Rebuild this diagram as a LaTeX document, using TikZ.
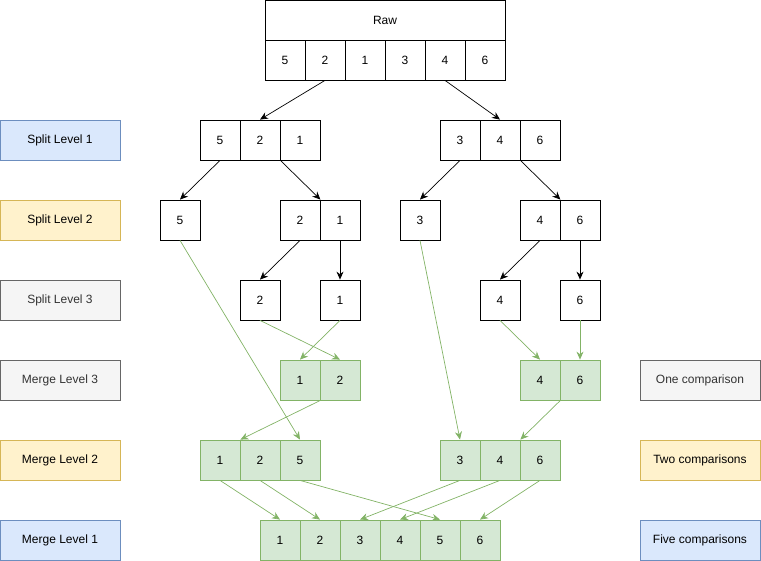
\documentclass[tikz,border=0pt]{standalone}
\usepackage{fontspec}
\setmainfont{Liberation Sans}
\usepackage{xcolor}
\usepackage{tikz}
\usetikzlibrary{arrows.meta}
\usetikzlibrary{positioning}

\definecolor{blueF}{HTML}{DAE8FC}
\definecolor{blueD}{HTML}{6C8EBF}
\definecolor{yellowF}{HTML}{FFF2CC}
\definecolor{yellowD}{HTML}{D6B656}
\definecolor{grayF}{HTML}{F5F5F5}
\definecolor{grayD}{HTML}{666666}
\definecolor{greenF}{HTML}{D5E8D4}
\definecolor{greenD}{HTML}{82B366}

\tikzset{
  cell/.style={draw, line width=0.8pt, minimum width=40pt, minimum height=40pt,
    inner sep=0pt, font=\fontsize{12}{14}\selectfont},
  mcell/.style={cell, draw=greenD, fill=greenF},
  tag/.style={draw, line width=0.8pt, minimum width=120pt, minimum height=40pt,
    inner sep=0pt, font=\fontsize{12}{14}\selectfont},
  bluetag/.style={tag, draw=blueD, fill=blueF},
  yellowtag/.style={tag, draw=yellowD, fill=yellowF},
  graytag/.style={tag, draw=grayD, fill=grayF, text=black!80},
  split/.style={-{Stealth[length=8pt,width=7pt]}, line width=0.7pt},
  merge/.style={-{Stealth[length=8pt,width=7pt]}, line width=0.7pt, draw=greenD},
}

\begin{document}
\begin{tikzpicture}[x=1pt, y=-1pt]

    \useasboundingbox (0, 0) rectangle (761, 561);

    % level labels
    \node [bluetag] (lsa) at (60, 140) {Split Level 1};
    \node [yellowtag] (lsb) at (60, 220) {Split Level 2};
    \node [graytag] (lsc) at (60, 300) {Split Level 3};
    \node [graytag] (lmc) at (60, 380) {Merge Level 3};
    \node [yellowtag] (lmb) at (60, 460) {Merge Level 2};
    \node [bluetag] (lma) at (60, 540) {Merge Level 1};

    \node [graytag] (cone) at (700, 380) {One comparison};
    \node [yellowtag] (ctwo) at (700, 460) {Two comparisons};
    \node [bluetag] (cfive) at (700, 540) {Five comparisons};

    % raw array
    \node [draw, line width=0.8pt, minimum width=240pt, minimum height=40pt,
      inner sep=0pt, font=\fontsize{12}{14}\selectfont] (raw) at (385, 20) {Raw};
    \foreach \v [count=\i] in {5, 2, 1, 3, 4, 6}
      \node [cell] (r\i) at ({245+40*\i}, 60) {\v};

    % split levels
    \foreach \v [count=\i] in {5, 2, 1}
      \node [cell] (a\i) at ({180+40*\i}, 140) {\v};
    \foreach \v [count=\i] in {3, 4, 6}
      \node [cell] (b\i) at ({420+40*\i}, 140) {\v};

    \node [cell] (c) at (180, 220) {5};
    \node [cell] (d1) at (300, 220) {2};
    \node [cell] (d2) at (340, 220) {1};
    \node [cell] (e) at (420, 220) {3};
    \node [cell] (f1) at (540, 220) {4};
    \node [cell] (f2) at (580, 220) {6};

    \node [cell] (g) at (260, 300) {2};
    \node [cell] (h) at (340, 300) {1};
    \node [cell] (k) at (500, 300) {4};
    \node [cell] (l) at (580, 300) {6};

    % merge levels
    \node [mcell] (m1) at (300, 380) {1};
    \node [mcell] (m2) at (340, 380) {2};
    \node [mcell] (n1) at (540, 380) {4};
    \node [mcell] (n2) at (580, 380) {6};

    \foreach \v [count=\i] in {1, 2, 5}
      \node [mcell] (p\i) at ({180+40*\i}, 460) {\v};
    \foreach \v [count=\i] in {3, 4, 6}
      \node [mcell] (q\i) at ({420+40*\i}, 460) {\v};

    \foreach \i in {1, ..., 6}
      \node [mcell] (t\i) at ({240+40*\i}, 540) {\i};

    % splitting
    \draw [split] (r2.south) -- (a2.north);
    \draw [split] (r5.south) -- (b2.north);
    \draw [split] (a1.south) -- (c.north);
    \draw [split] (a2.south east) -- (d1.north east);
    \draw [split] (b1.south) -- (e.north);
    \draw [split] (b2.south east) -- (f1.north east);
    \draw [split] (d1.south) -- (g.north);
    \draw [split] (d2.south) -- (h.north);
    \draw [split] (f1.south) -- (k.north);
    \draw [split] (f2.south) -- (l.north);

    % merging
    \draw [merge] (c.south) -- (p3.north);
    \draw [merge] (g.south) -- (m2.north);
    \draw [merge] (h.south) -- (m1.north);
    \draw [merge] (e.south) -- (q1.north);
    \draw [merge] (k.south) -- (n1.north);
    \draw [merge] (l.south) -- (n2.north);
    \draw [merge] (m1.south east) -- (p1.north east);
    \draw [merge] (n1.south east) -- (q2.north east);

    \draw [merge] (p1.south) -- (t1.north);
    \draw [merge] (p2.south) -- (t2.north);
    \draw [merge] (p3.south) -- (t5.north);
    \draw [merge] (q1.south) -- (t3.north);
    \draw [merge] (q2.south) -- (t4.north);
    \draw [merge] (q3.south) -- (t6.north);

  \end{tikzpicture}
\end{document}
